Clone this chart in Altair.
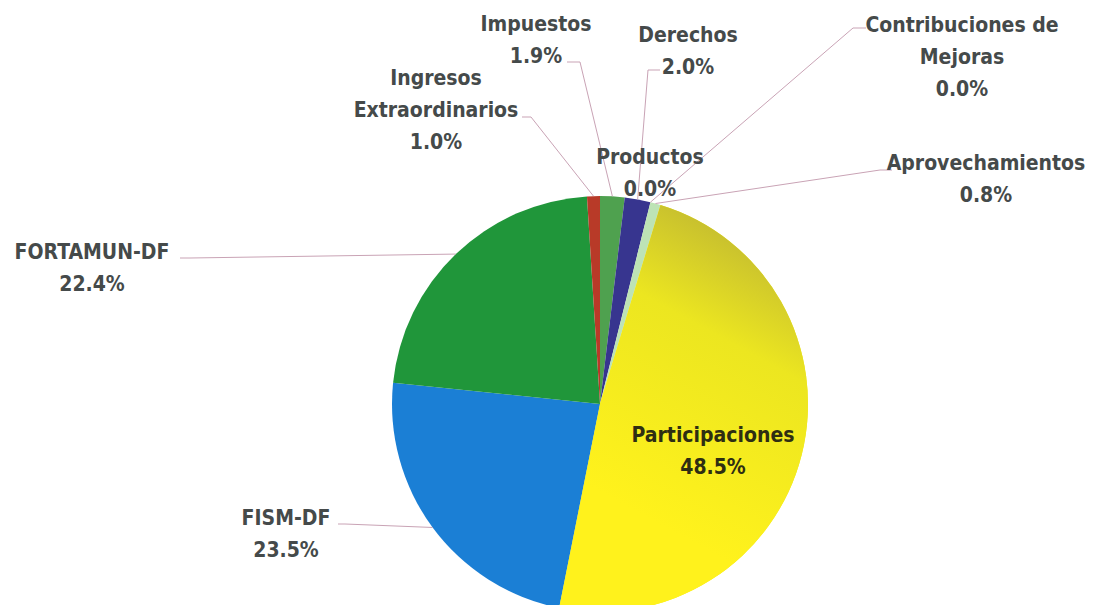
import altair as alt
import pandas as pd
import numpy as np

# ---- data ----
categories = ["Impuestos", "Derechos", "Contribuciones de Mejoras", "Productos",
              "Aprovechamientos", "Participaciones", "FISM-DF", "FORTAMUN-DF",
              "Ingresos Extraordinarios"]
label_text = ["Impuestos", "Derechos", "Contribuciones de\nMejoras", "Productos",
              "Aprovechamientos", "Participaciones", "FISM-DF", "FORTAMUN-DF",
              "Ingresos\nExtraordinarios"]
shares = [1.9, 2.0, 0.0, 0.0, 0.8, 48.5, 23.5, 22.4, 1.0]
colors = ["#4fa14f", "#37358f", "#8fbf8f", "#c0c0c0", "#bde3b5",
          "#f2ea1e", "#1b7fd5", "#20963a", "#b83a28"]

# ---- layout (chart pixel coordinates) ----
W, H = 1080, 597
CX, CY, R = 592, 396, 208
# label anchor: centre x, baseline of first line
label_pos = {
    "Impuestos": (528, 23), "Derechos": (680, 34),
    "Contribuciones de Mejoras": (954, 24), "Productos": (642, 156),
    "Aprovechamientos": (978, 162), "Participaciones": (705, 434),
    "FISM-DF": (278, 517), "FORTAMUN-DF": (84, 251),
    "Ingresos Extraordinarios": (428, 77),
}
# leader line: label end, elbow (then to slice edge)
leader = {
    "Impuestos": [(559, 54), (572, 54)],
    "Derechos": [(652, 62), (640, 62)],
    "Contribuciones de Mejoras": [(858, 20), (845, 20)],
    "Aprovechamientos": [(884, 162), (872, 162)],
    "FORTAMUN-DF": [(172, 250), (182, 250)],
    "FISM-DF": [(330, 516), (337, 516)],
    "Ingresos Extraordinarios": [(514, 109), (523, 109)],
}

vals = np.array(shares, dtype=float)
frac = vals / vals.sum()
t1 = np.cumsum(frac) * 2 * np.pi
t0 = t1 - frac * 2 * np.pi
mid = (t0 + t1) / 2

df = pd.DataFrame({
    "cat": categories, "share": shares, "t0": t0, "t1": t1,
    "text": [f"{l}\n{v:.1f}%" for l, v in zip(label_text, shares)],
    "lx": [label_pos[c][0] for c in categories],
    "ly": [label_pos[c][1] for c in categories],
    "tcol": ["#2e2e12" if c == "Participaciones" else "#454a4a" for c in categories],
})

rows = []
for i, c in enumerate(categories):
    if c not in leader:
        continue
    pts = leader[c] + [(CX + R * np.sin(mid[i]), CY - R * np.cos(mid[i]))]
    for k, (x, y) in enumerate(pts):
        rows.append({"cat": c, "k": k, "x": x, "y": y})
lines = pd.DataFrame(rows)

xs = alt.Scale(domain=[0, W], range=[0, W])
ys = alt.Scale(domain=[0, H], range=[0, H])

arcs = alt.Chart(df).mark_arc(stroke=None).encode(
    theta=alt.Theta("t0:Q", scale=None),
    theta2="t1:Q",
    color=alt.Color("cat:N", scale=alt.Scale(domain=categories, range=colors), legend=None),
    x=alt.value(CX), y=alt.value(CY),
    radius=alt.value(R),
)

grad = alt.Chart(df).transform_filter(alt.datum.cat == "Participaciones").mark_arc(
    fill=alt.LinearGradient(
        gradient="linear", x1=0.55, y1=0, x2=0.3, y2=0.75,
        stops=[alt.GradientStop(color="#c4bc30", offset=0),
               alt.GradientStop(color="#ece620", offset=0.35),
               alt.GradientStop(color="#fff21c", offset=1)]),
).encode(
    theta=alt.Theta("t0:Q", scale=None),
    theta2="t1:Q",
    x=alt.value(CX), y=alt.value(CY),
    radius=alt.value(R),
)

leaders = alt.Chart(lines).mark_line(color="#c9a3b5", strokeWidth=1).encode(
    x=alt.X("x:Q", scale=xs, axis=None),
    y=alt.Y("y:Q", scale=ys, axis=None),
    detail="cat:N",
    order="k:Q",
)

labels = alt.Chart(df).mark_text(
    font="DejaVu Sans Condensed",
    fontSize=21, fontWeight="bold", lineBreak="\n", lineHeight=32,
    align="center", baseline="alphabetic",
).encode(
    x=alt.X("lx:Q", scale=xs, axis=None),
    y=alt.Y("ly:Q", scale=ys, axis=None),
    text="text:N",
    color=alt.Color("tcol:N", scale=None),
)

chart = alt.layer(arcs, grad, leaders, labels).properties(
    width=W, height=H, padding=0, autosize=alt.AutoSizeParams(type="none")
).configure_view(stroke=None)

chart.save("out.html", embed_options={"renderer": "svg", "actions": False})
